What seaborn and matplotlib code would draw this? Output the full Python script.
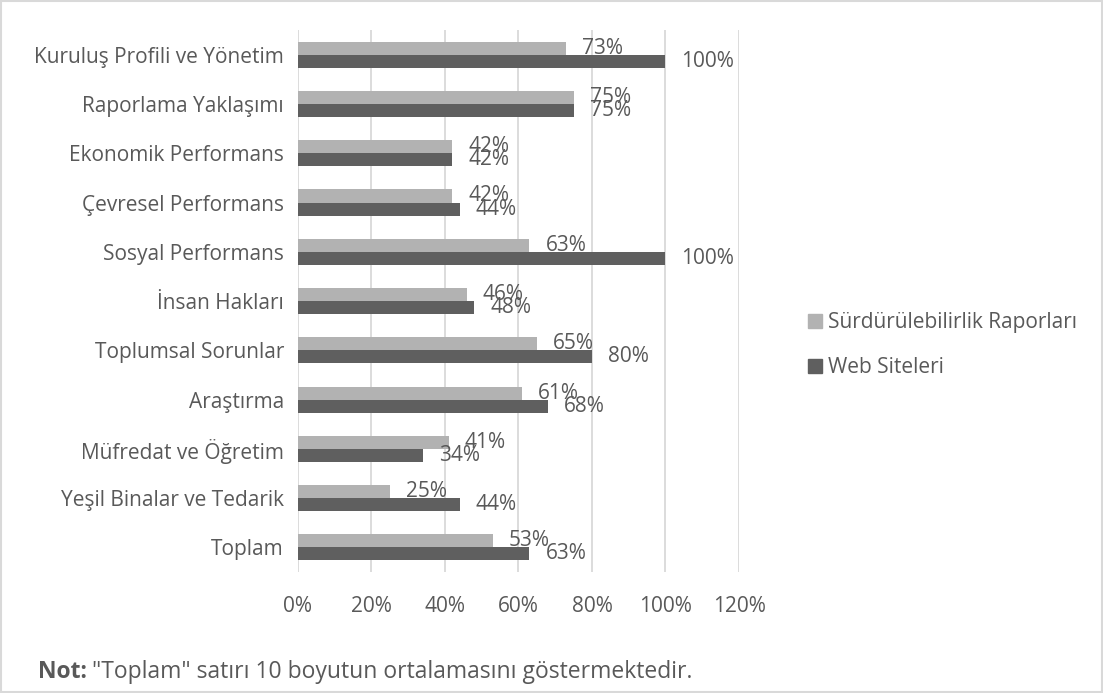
import matplotlib
matplotlib.use("Agg")
import matplotlib.pyplot as plt
import seaborn as sns
import pandas as pd
from matplotlib.patches import Rectangle

kategoriler = [
    "Kuruluş Profili ve Yönetim", "Raporlama Yaklaşımı", "Ekonomik Performans",
    "Çevresel Performans", "Sosyal Performans", "İnsan Hakları",
    "Toplumsal Sorunlar", "Araştırma", "Müfredat ve Öğretim",
    "Yeşil Binalar ve Tedarik", "Toplam",
]
raporlar = [73, 75, 42, 42, 63, 46, 65, 61, 41, 25, 53]
web = [100, 75, 42, 44, 100, 48, 80, 68, 34, 44, 63]
seriler = ["Sürdürülebilirlik Raporları", "Web Siteleri"]
renkler = ["#b2b2b2", "#5f5f5f"]
x_etiketler = ["0%", "20%", "40%", "60%", "80%", "100%", "120%"]

df = pd.DataFrame({
    "Boyut": kategoriler * 2,
    "Oran": [v / 100 for v in raporlar + web],
    "Seri": [seriler[0]] * len(kategoriler) + [seriler[1]] * len(kategoriler),
})

sns.set_style("white")
plt.rcParams["font.family"] = ["Open Sans", "DejaVu Sans"]
metin = "#595959"
fs = 15

fig = plt.figure(figsize=(11.03, 6.93), dpi=100)
ax = fig.add_axes([0.270, 0.1746, 0.400, 0.782])

sns.barplot(data=df, y="Boyut", x="Oran", hue="Seri", palette=renkler,
            width=0.53, orient="h", ax=ax, legend=False, saturation=1,
            linewidth=0)

for cont in ax.containers:
    ax.bar_label(cont, labels=[f"{v * 100:.0f}%" for v in cont.datavalues],
                 padding=11.5, fontsize=fs, color=metin)

ax.set_xlim(0, 1.2)
ax.set_xticks([i * 0.2 for i in range(7)])
ax.set_xticklabels(x_etiketler)
ax.grid(axis="x", color="#d9d9d9", linewidth=1.3)
ax.set_axisbelow(True)
for s in ax.spines.values():
    s.set_visible(False)
ax.tick_params(axis="x", length=0, pad=17, labelsize=fs, labelcolor=metin)
ax.tick_params(axis="y", length=0, pad=10, labelsize=fs, labelcolor=metin)
ax.set_xlabel("")
ax.set_ylabel("")

tutamaklar = [Rectangle((0, 0), 1, 1, color=c) for c in renkler]
fig.legend(tutamaklar, seriler, loc="center left", bbox_to_anchor=(0.716, 0.502),
           frameon=False, fontsize=fs, labelcolor=metin, handlelength=0.65,
           handleheight=0.65, handletextpad=0.3, labelspacing=1.15)

not_baslik = fig.text(0.034, 0.021, "Not:", fontsize=16.5, color=metin,
                      fontweight="bold")
ax.annotate("\"Toplam\" satırı 10 boyutun ortalamasını göstermektedir.",
            xy=(1, 0), xycoords=not_baslik, xytext=(4, 0),
            textcoords="offset points", fontsize=16.5, color=metin,
            va="bottom", annotation_clip=False)

fig.patches.append(Rectangle((0.001, 0.001), 0.998, 0.998, transform=fig.transFigure,
                             fill=False, edgecolor="#d9d9d9", linewidth=1.5))

fig.savefig("out.png", dpi=100)
